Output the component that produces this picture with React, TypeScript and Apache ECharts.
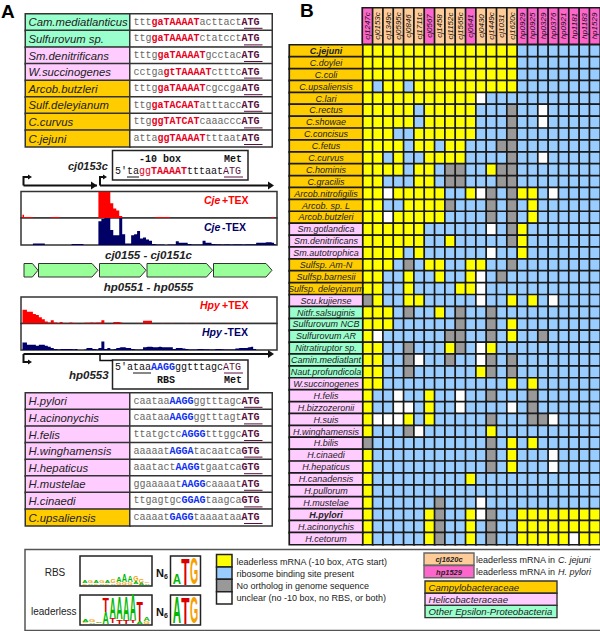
import React, { useEffect, useRef } from "react";
import * as echarts from "echarts";

const SANS = '"Liberation Sans", Arial, sans-serif';
const MONO = '"Liberation Mono", "Courier New", monospace';

// ---- Panel B data ----
const geneColumns = ["cj1247c","cj0153c","cj1349c","cj0595c","cj0846","cj1711c","cj0567","cj1458","cj1152c","cj1565c","cj0641","cj0430","cj1449c","cj1031","cj1620c","hp0929","hp0925","hp0329","hp0376","hp0921","hp1181","hp1183","hp1529"];
const geneColumnKinds = [8,7,7,7,7,7,8,7,7,7,8,7,7,7,7,8,8,8,8,8,8,8,8];
const speciesRows = ["C.jejuni","C.doylei","C.coli","C.upsaliensis","C.lari","C.rectus","C.showae","C.concisus","C.fetus","C.curvus","C.hominis","C.gracilis","Arcob.nitrofigilis","Arcob. sp. L","Arcob.butzleri","Sm.gotlandica","Sm.denitrificans","Sm.autotrophica","Sulfsp. Am-N","Sulfsp.barnesii","Sulfsp. deleyianum","Scu.kujiense","Nitfr.salsuginis","Sulfurovum NCB","Sulfurovum AR","Nitratiruptor sp.","Camin.mediatlant","Naut.profundicola","W.succinogenes","H.felis","H.bizzozeronii","H.suis","H.winghamensis","H.bilis","H.cinaedi","H.hepaticus","H.canadensis","H.pullorum","H.mustelae","H.pylori","H.acinonychis","H.cetorum"];
const speciesFamilies = [4,4,4,4,4,4,4,4,4,4,4,4,4,4,4,5,5,5,4,4,4,5,6,6,6,6,6,6,5,5,5,5,5,5,5,5,5,5,5,5,5,5];
const boldSpecies = ["C.jejuni","H.pylori"];
const matrixRows = [
  "yyyyyyyyyyyyyyybbbbbbbb",
  "yyyyyyyyyyyyyyybbbbbbbb",
  "yyyyyyyyyyyyyyybbbbbbbb",
  "ybyybyyyyyyyyyybbbbbbbb",
  "yyyyyyyyyyywbbbbbbbbbbb",
  "yyyyybyyyyybbbgbbwbbbbb",
  "yyyyybyyyyybbbgbbwbbbbb",
  "yyybbyyyyyybbbgbbbbbbbb",
  "yyyybyybyybbbggbbbbbbbb",
  "yybybbyyyybbbbgbbwbbbbb",
  "yyyybyybggbbyggbbbbbbbb",
  "yybbbyybggbbbggbbbbbbbb",
  "yywyyyyybbywgbgyybwbbbb",
  "yybbyyyygbbbgbgbybbbbbb",
  "yywyyyyybbbbgbgbybbbbbb",
  "yyyyyybbbbbbwbgybbbbbbb",
  "yyyyyybbybbbbbgybbbbbbb",
  "yyyybybbbbbbwbbybbbbbbb",
  "yyybgbyybbyybbgbbbbbbbb",
  "yybbybbybbywbgbbbbbbbbb",
  "yybbybbbbyywbbbbbbbbbbb",
  "gybbyybbbbbwbbybybwbbbb",
  "yyybgbbybgbbgbbbbbbbbbb",
  "yyybbbbbbgbbgbybbbbbbbb",
  "ywbbbbbbggbbgbybbgbbbbb",
  "yybbgbbbygbwybbbbbbbbbb",
  "yybbgwbbgbbwgbgbbbbbbbb",
  "yybbgbbbbbbygbgbbbbbbbb",
  "yybbbbbbbbbbbbybybbbbbb",
  "ybbwbbybbwbbgbbbgbbbbbb",
  "ybbwwbybbwbbbbwbgbbbbbb",
  "ywwwybybbbbbgbbbggwbbbb",
  "ybbbgwbbbbbbybbbbbbbbbb",
  "gbbbbbbbbbbbgbybybbbbbb",
  "ybbbbbbbbbbbgbybbbwbbbb",
  "ybbbbbbbbbbbgbybbbwbbbb",
  "ybbbbbbbbbybbbbbbbbbbbb",
  "ybbbbbbbbbbbbbbbbbbbbbb",
  "ybbbbbbgbbbwbbbbbbbbbbb",
  "ybbbbbygbbywgbbyyyyyyyy",
  "ybbbbbygbbybgbbyyyyyyyy",
  "ybbbbbygbbybgbbyyyyywyy",
];
const stateCodes: Record<string, number> = { y: 0, b: 1, g: 2, w: 3 };

// ---- Panel A data ----
const upperNames = ["Cam.mediatlanticus","Sulfurovum sp.","Sm.denitrificans","W.succinogenes","Arcob.butzleri","Sulf.deleyianum","C.curvus","C.jejuni"];
const upperFamilies = [6,6,5,5,4,4,4,4];
const upperSeqs = [
  ["ttt","gaTAAAAT","acttact","ATG"],
  ["ttg","gaTAAAAT","ctatcct","ATG"],
  ["tttg","gaTAAAAT","gcctac","ATG"],
  ["cctga","gtTAAAAT","ctttc","ATG"],
  ["tttg","gaTAAAAT","cgccga","ATG"],
  ["ttg","gaTACAAT","atttacc","ATG"],
  ["ttg","ggTATCAT","caaaccc","ATG"],
  ["atta","ggTAAAAT","tttaat","ATG"],
];
const lowerNames = ["H.pylori","H.acinonychis","H.felis","H.winghamensis","H.hepaticus","H.mustelae","H.cinaedi","C.upsaliensis"];
const lowerFamilies = [5,5,5,5,5,5,5,4];
const lowerSeqs = [
  ["caataa","AAGG","ggtttagc","ATG"],
  ["caataa","AAGG","ggtttagt","ATG"],
  ["ttatgctc","AGGG","tttggc","ATG"],
  ["aaaaat","AGGA","tacaatca","GTG"],
  ["aaatact","AAGG","tgaatca","GTG"],
  ["ggaaaaat","AAGG","caaaat","ATG"],
  ["ttgagtgc","GGAG","taagca","GTG"],
  ["caaaat","GAGG","taaaataa","ATG"],
];

// coverage tracks, one value per genome bin
const cjePlus = [3,1,1,1,0,0,0,0,0,0,1,1,1,0,0,0,0,0,0,0,0,0,0,0,0,0,25,25,25,25,14,9,7,2,0,0,0,0,0,0,0,0,0,0,0,1,1,1,1,1,0,0,0,0,0,0,0,0,0,0,0,0,0,0,0,0,0,0,0,0,0,0,0,0,0,0,0,0,0,0,0,0,0,0,1,0];
const cjeMinus = [0,0,0,0,1.5,1.5,1.5,1.5,0,0,0,0,0,0,0,0,0,1,1,1,1,0,0,0,0,0,22,24,25,25,14,9,9,25,10,1.5,1.5,9,10,13,6,7,5,4,1,0.5,0.5,0.5,0,0.5,0.5,0.5,3.5,2,2,2,1,0.5,0.5,0.5,0.5,4,2,2,1,0.7,0.7,0.5,0.7,0.7,0.5,0.7,0.7,0.7,0.5,0.7,0.7,0.7,0.7,2,2,2,2.5,2.5,2,1];
const hpyPlus = [13,13,11,11,9,8,6,4,2,1,3,1,0.5,1.5,0.5,0.5,1,0.5,0.5,0,0.5,0.7,0.7,1,0.7,1,1,3,0,0,0,1.5,1.5,1,0,0,0,0,0,0.5,0,2.5,2.5,2.5,0,0,0,0.5,0,0,0.5,0,0,0,0,0.5,0,0,0.5,0,0,0,0,0.5,0,0,0,0,0,0.5,0,0,0,0,0.5,0,0,0,0,0,0,0,0,0,0,0];
const hpyMinus = [7,7,5,5,5,4,5,5,4,3,2,1,0.5,1,1,1,1,0.7,1,0,0,0.5,2,2,1,0.5,2,8,1,2,0.5,1,2,2.5,2.5,2,2,1,0.5,0.5,0.5,2.5,3,3,2.5,2.5,3,2.5,2.5,2.5,2.5,1,2,2,1.5,1,0.5,0.5,0.5,1,1,0.7,0.7,0.5,0.5,1,1,0.7,0.5,0.5,0.5,0.5,1.5,2,2,2,2.5,3,1,0,0,0,0,0,0,0];

const geneExtents = [[24,38],[38.5,98],[99.5,146],[147,212.5],[213.5,272]];

// legend text
const stateLegend = ["leaderless mRNA (-10 box, ATG start)","ribosome binding site present","No ortholog in genome sequence","unclear (no -10 box, no RBS, or both)"];
const familyLegend = ["Campylobacteraceae","Helicobacteraceae","Other Epsilon-Proteobacteria"];

// sequence logos: columns of stacks [letter, height], bottom to top
const logoRbs: [string, number][][] = [
  [["G",1.5],["A",2]],[["A",1.5],["G",2]],[["G",1.5],["A",2]],[["A",1.5],["G",2]],[["G",1.5],["A",2.5]],[["A",1.5],["G",3.5]],
  [["G",2],["A",5.5]],[["G",2.5],["A",7]],[["G",2.5],["A",6]],[["A",3],["G",5.5]],[["A",2],["G",4]],[["A",1.5],["G",1.5]],
];
const logoRbsStart: [string, number][][] = [[["A",10]],[["T",26]],[["G",26]]];
const logoLeaderless: [string, number][][] = [
  [["G",1.5],["A",2.5]],[["A",1.5],["G",3]],[["G",1],["A",1.5]],[["A",12],["T",14]],[["T",5],["A",20]],[["T",4],["A",21]],[["T",4],["A",23]],[["T",3],["A",25]],[["A",3],["T",19]],[["G",2],["A",4]],
];
const logoLeaderlessStart: [string, number][][] = [[["A",26]],[["T",26]],[["G",26]]];

const COLORS = ["#FFFF00","#99CCFF","#999999","#FFFFFF","#FFCC00","#FFCCFF","#99FFCC","#FFCC99","#FF66CC"];
const LETTER_COLORS: Record<string, string> = { A: "#00B800", T: "#D80000", G: "#F5A000", C: "#0000CC" };
const LETTER_W: Record<string, number> = { A: 14.4, T: 12.2, G: 15.6, C: 14.4 };

function buildOption() {
  const grid: any[] = [];
  const xAxis: any[] = [];
  const yAxis: any[] = [];
  const series: any[] = [];
  const heatIdx: number[] = [];
  const graphic: any[] = [];

  const addHeat = (rect: number[], xs: string[], ys: string[], data: any[], label: any, border: any) => {
    const i = grid.length;
    grid.push({ left: rect[0], top: rect[1], width: rect[2], height: rect[3] });
    xAxis.push({ type: "category", gridIndex: i, data: xs, show: false });
    yAxis.push({ type: "category", gridIndex: i, data: ys, show: false, inverse: true });
    heatIdx.push(series.length);
    series.push({ type: "heatmap", xAxisIndex: i, yAxisIndex: i, data, label, itemStyle: border, emphasis: { disabled: true }, z: 2 });
  };
  const addTrack = (rect: number[], values: number[], color: string) => {
    const i = grid.length;
    grid.push({ left: rect[0], top: rect[1], width: rect[2], height: rect[3], show: true, borderColor: "#333", borderWidth: 1.5, backgroundColor: "#fff" });
    xAxis.push({ type: "category", gridIndex: i, data: values.map((_, k) => String(k)), show: false, boundaryGap: true });
    yAxis.push({ type: "value", gridIndex: i, min: 0, max: 25, show: false });
    series.push({ type: "line", xAxisIndex: i, yAxisIndex: i, data: values, step: "middle", symbol: "none", lineStyle: { width: 0 }, areaStyle: { color, opacity: 1 }, z: 2 });
  };

  const cellBorder = { borderColor: "#1a1a1a", borderWidth: 1.7 };

  // Panel B
  addHeat([362.5, 45, 237.5, 499.5], geneColumns, speciesRows,
    matrixRows.flatMap((r, y) => r.split("").map((c, x) => [x, y, stateCodes[c]])),
    { show: false }, cellBorder);
  addHeat([289.5, 45, 73, 499.5], ["name"], speciesRows,
    speciesRows.map((s, y) => ({ value: [0, y, speciesFamilies[y]], label: { fontWeight: boldSpecies.includes(s) ? "bold" : "normal" } })),
    { show: true, formatter: (p: any) => speciesRows[p.value[1]], fontFamily: SANS, fontStyle: "italic", fontSize: 9, color: "#222" }, cellBorder);
  addHeat([362.5, 8, 237.5, 36], geneColumns, ["gene"],
    geneColumns.map((g, x) => [x, 0, geneColumnKinds[x]]),
    { show: true, rotate: 90, formatter: (p: any) => geneColumns[p.value[0]], fontFamily: SANS, fontStyle: "italic", fontSize: 8, color: "#111" }, cellBorder);

  // Panel A tables
  const tableBorder = { borderColor: "#333", borderWidth: 1.5 };
  const seqRich = (mid: string) => ({
    p: { fontFamily: MONO, fontSize: 10, color: "#666" },
    m: { fontFamily: MONO, fontSize: 10, fontWeight: "bold", color: mid },
    s: { fontFamily: MONO, fontSize: 10, fontWeight: "bold", color: "#5A1040" },
  });
  const addTable = (top: number, names: string[], fams: number[], seqs: string[][], mid: string) => {
    const h = 132.8;
    const labels = names.map((_, i) => "r" + i);
    addHeat([25.5, top, 104.5, h], ["name"], labels, names.map((_, y) => [0, y, fams[y]]),
      { show: true, position: "insideLeft", distance: 4, formatter: (p: any) => names[p.value[1]], fontFamily: SANS, fontStyle: "italic", fontSize: 11.3, color: "#222" }, tableBorder);
    addHeat([130, top, 142, h], ["seq"], labels, names.map((_, y) => [0, y, 3]),
      { show: true, position: "insideLeft", distance: 4.5, formatter: (p: any) => { const q = seqs[p.value[1]]; return `{p|${q[0]}}{m|${q[1]}}{p|${q[2]}}{s|${q[3]}}`; }, rich: seqRich(mid) }, tableBorder);
    names.forEach((_, i) => {
      const y = top + (i + 0.5) * (h / 8) + 6;
      graphic.push({ type: "line", shape: { x1: 244, y1: y, x2: 262.5, y2: y }, style: { stroke: "#5A1040", lineWidth: 1 }, z: 10 });
    });
  };
  addTable(14, upperNames, upperFamilies, upperSeqs, "#E8001C");
  addTable(393, lowerNames, lowerFamilies, lowerSeqs, "#1030F0");

  // Tracks
  addTrack([21, 191.5, 256, 26.5], cjePlus, "#FF0000");
  addTrack([21, 218, 256, 27], cjeMinus, "#000066");
  addTrack([21, 297, 256, 26.5], hpyPlus, "#FF0000");
  addTrack([21, 323.5, 256, 26.5], hpyMinus, "#000066");

  // Generic text helpers
  const txt = (text: string, x: number, y: number, o: any = {}) => {
    graphic.push({ type: "text", x, y, z: 12, style: { text, fontFamily: SANS, fontSize: 10, fill: "#222", verticalAlign: "middle", align: "left", ...o } });
  };
  const line = (pts: number[][], w = 1.5, color = "#111") => graphic.push({ type: "polyline", z: 8, shape: { points: pts }, style: { stroke: color, lineWidth: w, fill: "none" } });
  const head = (x: number, y: number, s = 6) => graphic.push({ type: "polygon", z: 8, shape: { points: [[x - s, y - s * 0.65], [x, y], [x - s, y + s * 0.65]] }, style: { fill: "#111" } });

  txt("A", 1, 11, { fontSize: 19, fontWeight: "bold", fill: "#000" });
  txt("B", 300, 10, { fontSize: 19, fontWeight: "bold", fill: "#000" });

  // cj0153c callout
  graphic.push({ type: "rect", z: 7, shape: { x: 112.5, y: 150.5, width: 135.5, height: 29.5 }, style: { fill: "#fff", stroke: "#222", lineWidth: 1.5 } });
  txt("-10 box", 139, 159, { fontFamily: MONO, fontSize: 10, fontWeight: "bold", fill: "#111" });
  txt("Met", 224, 159, { fontFamily: MONO, fontSize: 10, fontWeight: "bold", fill: "#111" });
  graphic.push({ type: "text", x: 115, y: 171, z: 12, style: {
    text: "{k|5'ta}{r|gg}{b|TAAAAT}{k|tttaat}{s|ATG}", verticalAlign: "middle", align: "left",
    rich: { k: { fontFamily: MONO, fontSize: 10, fill: "#111" }, r: { fontFamily: MONO, fontSize: 10, fill: "#E8001C" }, b: { fontFamily: MONO, fontSize: 10, fontWeight: "bold", fill: "#E8001C" }, s: { fontFamily: MONO, fontSize: 10, fill: "#5A1040" } },
  } });
  line([[127, 177], [139, 177]], 1, "#111");
  line([[224, 177], [243, 177]], 1, "#5A1040");
  txt("cj0153c", 68, 166, { fontSize: 11, fontWeight: "bold", fontStyle: "italic" });

  // promoter arrows above the Cje tracks
  line([[23.5, 185.5], [97, 185.5]], 2); head(97, 185.5);
  line([[23.5, 185.5], [23.5, 177], [28, 177]], 2); head(32, 177, 4);
  line([[100, 185.5], [272, 185.5]], 2); head(274, 185.5);
  line([[100, 185.5], [100, 177], [103, 177]], 2); head(107, 177, 4);

  txt("Cje", 204, 199.5, { fontWeight: "bold", fontStyle: "italic", fill: "#FF0000", fontSize: 10.5 });
  txt("+TEX", 222, 199.5, { fontWeight: "bold", fill: "#FF0000", fontSize: 10.5 });
  txt("Cje", 204, 227, { fontWeight: "bold", fontStyle: "italic", fill: "#000066", fontSize: 10.5 });
  txt("-TEX", 222, 227, { fontWeight: "bold", fill: "#000066", fontSize: 10.5 });
  txt("cj0155 - cj0151c", 148.5, 255, { fontSize: 11.5, fontWeight: "bold", fontStyle: "italic", align: "center" });
  txt("hp0551 - hp0555", 148.5, 287, { fontSize: 11.5, fontWeight: "bold", fontStyle: "italic", align: "center" });

  geneExtents.forEach(([a, b]) => {
    const t = 263.5, bt = 277, hd = Math.min(6, (b - a) * 0.4);
    graphic.push({ type: "polygon", z: 6, shape: { points: [[a, t], [b - hd, t], [b, (t + bt) / 2], [b - hd, bt], [a, bt]] }, style: { fill: "#99FF99", stroke: "#333", lineWidth: 1 } });
  });

  txt("Hpy", 200, 305, { fontWeight: "bold", fontStyle: "italic", fill: "#FF0000", fontSize: 10.5 });
  txt("+TEX", 222, 305, { fontWeight: "bold", fill: "#FF0000", fontSize: 10.5 });
  txt("Hpy", 202, 332, { fontWeight: "bold", fontStyle: "italic", fill: "#000066", fontSize: 10.5 });
  txt("-TEX", 224, 332, { fontWeight: "bold", fill: "#000066", fontSize: 10.5 });

  // promoter arrows under the Hpy tracks
  line([[23.5, 354], [270, 354]], 2); head(274, 354);
  line([[23.5, 354], [23.5, 362], [28, 362]], 2); head(32, 362, 4);
  line([[100, 354], [100, 360.5], [113, 360.5]], 1.5);

  // hp0553 callout
  graphic.push({ type: "rect", z: 7, shape: { x: 112.5, y: 360, width: 135.5, height: 29 }, style: { fill: "#fff", stroke: "#222", lineWidth: 1.5 } });
  graphic.push({ type: "text", x: 115, y: 367.5, z: 12, style: {
    text: "{k|5'ataa}{b|AAGG}{k|ggtttagc}{s|ATG}", verticalAlign: "middle", align: "left",
    rich: { k: { fontFamily: MONO, fontSize: 10, fill: "#111" }, b: { fontFamily: MONO, fontSize: 10, fontWeight: "bold", fill: "#1030F0" }, s: { fontFamily: MONO, fontSize: 10, fill: "#5A1040" } },
  } });
  line([[133, 373], [151, 373]], 1, "#111");
  line([[224, 373], [243, 373]], 1, "#5A1040");
  txt("RBS", 157, 380, { fontFamily: MONO, fontSize: 10, fontWeight: "bold", fill: "#111" });
  txt("Met", 224, 380, { fontFamily: MONO, fontSize: 10, fontWeight: "bold", fill: "#111" });
  txt("hp0553", 69, 375, { fontSize: 11.5, fontWeight: "bold", fontStyle: "italic" });

  // Legend frame
  graphic.push({ type: "rect", z: 1, shape: { x: 25, y: 549.5, width: 590, height: 81 }, style: { fill: "#fff", stroke: "#555", lineWidth: 1.5 } });
  txt("RBS", 55, 572, { fontSize: 10, align: "center" });
  txt("leaderless", 31, 611, { fontSize: 10 });

  const logo = (x: number, y: number, w: number, h: number, cols: [string, number][][]) => {
    graphic.push({ type: "rect", z: 5, shape: { x, y, width: w, height: h }, style: { fill: "#fff", stroke: "#222", lineWidth: 1.5 } });
    const cw = (w - 4) / cols.length;
    cols.forEach((stack, c) => {
      let bottom = y + h - 1.5;
      stack.forEach(([ch, ht]) => {
        const g = LETTER_W[ch];
        graphic.push({ type: "text", z: 9, x: x + 2 + c * cw + 0.2, y: bottom - ht / 2, scaleX: (cw - 0.4) / g, scaleY: ht / 13.8, style: { text: ch, fontFamily: SANS, fontWeight: "bold", fontSize: 20, fill: LETTER_COLORS[ch], verticalAlign: "middle", align: "left" } });
        bottom -= ht;
      });
    });
  };
  logo(80, 556, 72, 30, logoRbs);
  logo(170.5, 556, 30, 30, logoRbsStart);
  logo(80, 595, 72, 30, logoLeaderless);
  logo(170.5, 595, 30, 30, logoLeaderlessStart);
  for (const y of [573, 612]) {
    graphic.push({ type: "text", x: 156, y, z: 12, style: { text: "{n|N}{s|6}", verticalAlign: "middle", rich: { n: { fontFamily: SANS, fontWeight: "bold", fontSize: 11, fill: "#111" }, s: { fontFamily: SANS, fontWeight: "bold", fontSize: 7, fill: "#111", verticalAlign: "bottom", padding: [6, 0, 0, 0] } } } });
  }

  // State swatches
  stateLegend.forEach((t, i) => {
    graphic.push({ type: "rect", z: 5, shape: { x: 216.5, y: 554.5 + i * 12.4, width: 15.5, height: 12.4 }, style: { fill: COLORS[i], stroke: "#222", lineWidth: 1.5 } });
    txt(t, 236.5, 561.5 + i * 12.3, { fontSize: 9 });
  });

  // Gene-name key
  graphic.push({ type: "rect", z: 5, shape: { x: 424, y: 553, width: 50, height: 12.3 }, style: { fill: COLORS[7], stroke: "#666", lineWidth: 1.4 } });
  graphic.push({ type: "rect", z: 5, shape: { x: 424, y: 565.5, width: 50, height: 12.3 }, style: { fill: COLORS[8], stroke: "#666", lineWidth: 1.4 } });
  txt("cj1620c", 449, 559.5, { fontSize: 7.5, fontWeight: "bold", fontStyle: "italic", align: "center" });
  txt("hp1529", 449, 572, { fontSize: 7.5, fontWeight: "bold", fontStyle: "italic", align: "center" });
  graphic.push({ type: "text", x: 476, y: 560, z: 12, style: { text: "{a|leaderless mRNA in }{i|C. jejuni}", verticalAlign: "middle", rich: { a: { fontFamily: SANS, fontSize: 9, fill: "#222" }, i: { fontFamily: SANS, fontStyle: "italic", fontSize: 9, fill: "#222" } } } });
  graphic.push({ type: "text", x: 476, y: 572, z: 12, style: { text: "{a|leaderless mRNA in }{i|H. pylori}", verticalAlign: "middle", rich: { a: { fontFamily: SANS, fontSize: 9, fill: "#222" }, i: { fontFamily: SANS, fontStyle: "italic", fontSize: 9, fill: "#222" } } } });

  // Family key
  familyLegend.forEach((t, i) => {
    graphic.push({ type: "rect", z: 5, shape: { x: 425, y: 581 + i * 12.2, width: 132, height: 12.2 }, style: { fill: COLORS[4 + i], stroke: "#333", lineWidth: 1.4 } });
    txt(t, 428.5, 587.3 + i * 12.2, { fontSize: 9.6, fontStyle: "italic" });
  });

  return {
    animation: false,
    backgroundColor: "#fff",
    grid, xAxis, yAxis, series,
    visualMap: {
      type: "piecewise", show: false, dimension: 2, seriesIndex: heatIdx,
      pieces: COLORS.map((color, value) => ({ value, color })),
    },
    graphic: { elements: graphic },
  };
}

export default function App() {
  const ref = useRef<HTMLDivElement>(null);
  useEffect(() => {
    document.body.style.margin = "0";
    const chart = echarts.init(ref.current!, undefined, { renderer: "svg" });
    chart.setOption(buildOption() as any);
    return () => chart.dispose();
  }, []);
  return <div ref={ref} style={{ width: 600, height: 631, overflow: "hidden" }} />;
}
